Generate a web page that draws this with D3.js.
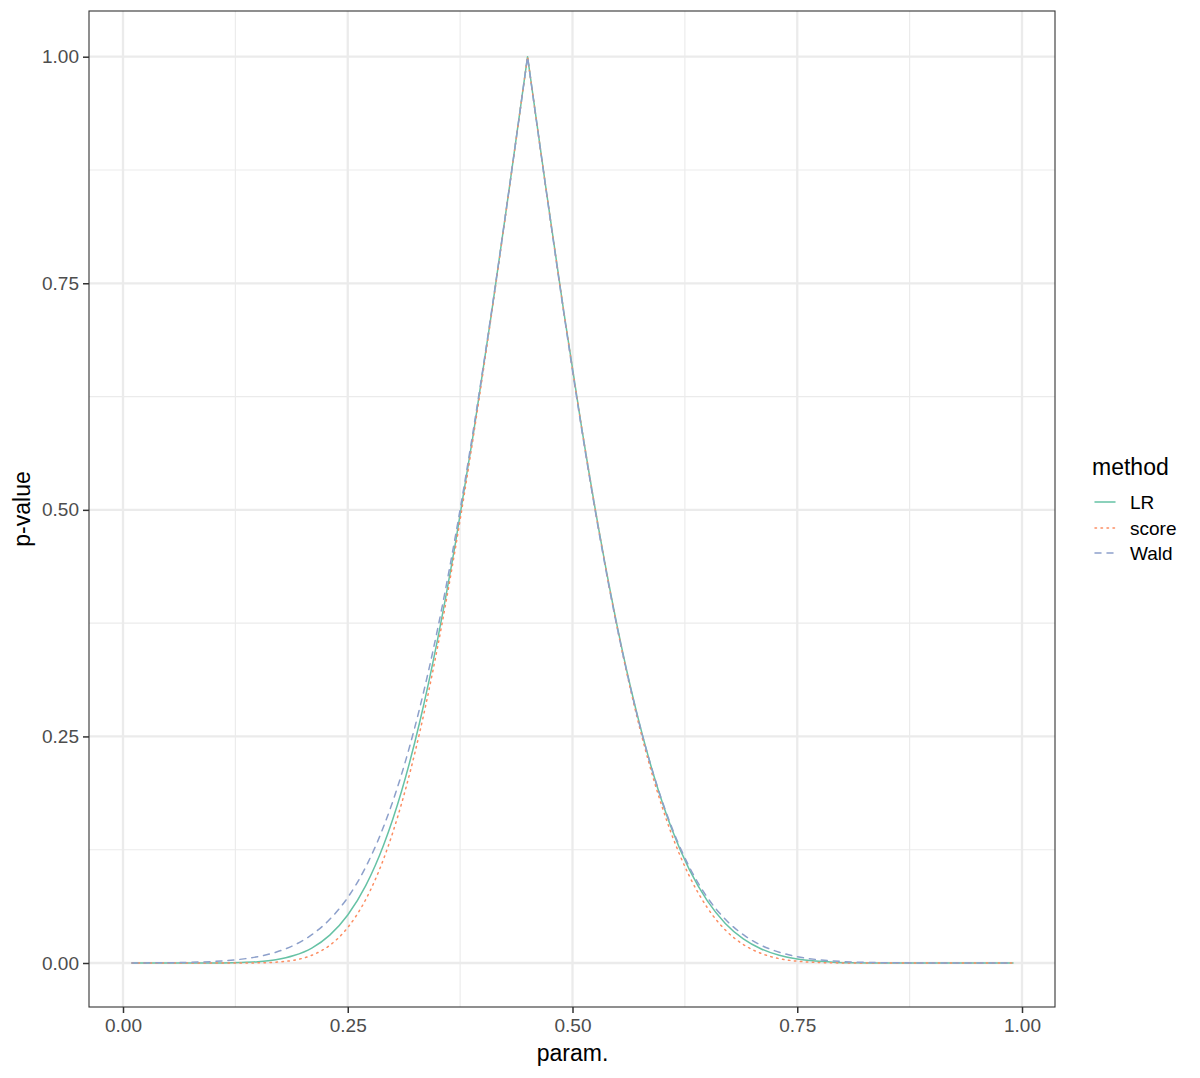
<!DOCTYPE html>
<html>
<head>
<meta charset="utf-8">
<script src="https://cdn.jsdelivr.net/npm/d3@7"></script>
<style>
  html, body { margin: 0; padding: 0; background: #ffffff; }
  svg { display: block; }
  text { font-family: "Liberation Sans", Arial, Helvetica, sans-serif; }
</style>
</head>
<body>
<svg id="chart" width="1200" height="1078"></svg>
<script>
// ---- data ----
const params = [0.01,0.03,0.05,0.07,0.09,0.11,0.13,0.15,0.17,0.19,0.21,0.23,0.25,0.27,0.29,0.31,0.33,0.35,0.37,0.39,0.41,0.43,0.45,
  0.47,0.49,0.51,0.53,0.55,0.57,0.59,0.61,0.63,0.65,0.67,0.69,0.71,0.73,0.75,0.77,0.79,0.81,0.83,0.85,0.87,0.89,0.91,0.93,0.95,0.97,0.99];

const lrValues = [0,0,0,0.000003,0.000023,0.00013,0.00049,0.0014,0.0036,0.0082,0.0165,0.0307,0.0529,0.0853,0.1304,0.1900,0.2656,0.3574,0.4647,0.5858,0.7177,0.8572,1,
  0.8580,0.7207,0.5918,0.4743,0.3704,0.2819,0.2083,0.1490,0.1030,0.0685,0.0437,0.0266,0.0155,0.0085,0.0043,0.0021,0.00093,0.00036,0.000125,0.000035,0.000007,0,0,0,0,0,0];

const scoreValues = [0,0,0,0,0,0.000001,0.00002,0.00017,0.0009,0.0031,0.0085,0.0195,0.0391,0.0700,0.1151,0.1764,0.2543,0.3490,0.4592,0.5827,0.7164,0.8567,1,
  0.8579,0.7209,0.5919,0.4738,0.3687,0.2787,0.2035,0.1428,0.0958,0.0610,0.0364,0.0204,0.0105,0.0048,0.0020,0.00067,0.0002,0.00004,0.000006,0,0,0,0,0,0,0,0];

const waldValues = [0.00008,0.00017,0.00032,0.00064,0.0012,0.0023,0.0040,0.0070,0.0119,0.0195,0.0312,0.0482,0.0723,0.1059,0.1508,0.2087,0.2811,0.3687,0.4723,0.5901,0.7195,0.8574,1,
  0.8574,0.7195,0.5901,0.4723,0.3687,0.2811,0.2087,0.1508,0.1059,0.0723,0.0482,0.0312,0.0195,0.0119,0.0070,0.0040,0.0023,0.0012,0.00064,0.00032,0.00017,0.00008,0.00004,0.00002,0.00001,0,0];

const methods = ["LR", "score", "Wald"];
const methodValues = [lrValues, scoreValues, waldValues];
const methodColors = ["#66C2A5", "#FC8D62", "#8DA0CB"];
const methodDash = [null, "1.5,4.5", "6,6"];

const xTicks = [0, 0.25, 0.5, 0.75, 1];
const yTicks = [0, 0.25, 0.5, 0.75, 1];
const xMinor = [0.125, 0.375, 0.625, 0.875];
const yMinor = [0.125, 0.375, 0.625, 0.875];

// ---- layout ----
const panel = { left: 89, top: 11, right: 1055, bottom: 1007 };
const svg = d3.select("#chart");

const x = d3.scaleLinear().domain([0, 1]).range([123, 1022]);
const y = d3.scaleLinear().domain([0, 1]).range([963, 56.7]);

svg.append("rect").attr("width", 1200).attr("height", 1078).attr("fill", "#ffffff");

svg.append("defs").append("clipPath").attr("id", "clip")
  .append("rect")
  .attr("x", panel.left).attr("y", panel.top)
  .attr("width", panel.right - panel.left).attr("height", panel.bottom - panel.top);

const grid = svg.append("g");
grid.selectAll(".xminor").data(xMinor).enter().append("line")
  .attr("x1", d => x(d)).attr("x2", d => x(d))
  .attr("y1", panel.top).attr("y2", panel.bottom)
  .attr("stroke", "#EBEBEB").attr("stroke-width", 1.15);
grid.selectAll(".yminor").data(yMinor).enter().append("line")
  .attr("y1", d => y(d)).attr("y2", d => y(d))
  .attr("x1", panel.left).attr("x2", panel.right)
  .attr("stroke", "#EBEBEB").attr("stroke-width", 1.15);
grid.selectAll(".xmajor").data(xTicks).enter().append("line")
  .attr("x1", d => x(d)).attr("x2", d => x(d))
  .attr("y1", panel.top).attr("y2", panel.bottom)
  .attr("stroke", "#EBEBEB").attr("stroke-width", 2.3);
grid.selectAll(".ymajor").data(yTicks).enter().append("line")
  .attr("y1", d => y(d)).attr("y2", d => y(d))
  .attr("x1", panel.left).attr("x2", panel.right)
  .attr("stroke", "#EBEBEB").attr("stroke-width", 2.3);

// lines: each side of the peak is monotone, so smooth each side separately
const lineGen = d3.line()
  .x(d => x(d[0]))
  .y(d => y(d[1]))
  .curve(d3.curveMonotoneX);

function pathFor(values) {
  const pts = params.map((p, i) => [p, values[i]]);
  const peak = d3.maxIndex(values);
  const left = lineGen(pts.slice(0, peak + 1));
  const right = lineGen(pts.slice(peak));
  return left + right.replace(/^M/, "L");
}

const linesG = svg.append("g").attr("clip-path", "url(#clip)");
methods.forEach((m, k) => {
  const p = linesG.append("path")
    .attr("d", pathFor(methodValues[k]))
    .attr("fill", "none")
    .attr("stroke", methodColors[k])
    .attr("stroke-width", 1.5)
    .attr("stroke-linejoin", "round")
    .attr("stroke-linecap", "round");
  if (methodDash[k]) p.attr("stroke-dasharray", methodDash[k]);
});

// panel border
svg.append("rect")
  .attr("x", panel.left).attr("y", panel.top)
  .attr("width", panel.right - panel.left).attr("height", panel.bottom - panel.top)
  .attr("fill", "none").attr("stroke", "#333333").attr("stroke-width", 1.1);

// axes
const xAxis = d3.axisBottom(x).tickValues(xTicks).tickFormat(d3.format(".2f")).tickSize(6).tickPadding(6);
const gx = svg.append("g").attr("transform", `translate(0,${panel.bottom})`).call(xAxis);
gx.select(".domain").remove();
gx.selectAll(".tick line").attr("stroke", "#333333").attr("stroke-width", 1.5);
gx.selectAll(".tick text").attr("fill", "#4D4D4D").style("font-size", "19px")
  .style("font-family", '"Liberation Sans", Arial, sans-serif');

const yAxis = d3.axisLeft(y).tickValues(yTicks).tickFormat(d3.format(".2f")).tickSize(6).tickPadding(4);
const gy = svg.append("g").attr("transform", `translate(${panel.left},0)`).call(yAxis);
gy.select(".domain").remove();
gy.selectAll(".tick line").attr("stroke", "#333333").attr("stroke-width", 1.5);
gy.selectAll(".tick text").attr("fill", "#4D4D4D").style("font-size", "19px")
  .style("font-family", '"Liberation Sans", Arial, sans-serif');

// axis titles
svg.append("text")
  .attr("x", (x(0) + x(1)) / 2).attr("y", 1061)
  .attr("text-anchor", "middle").attr("fill", "#000000")
  .style("font-size", "23px").text("param.");
svg.append("text")
  .attr("transform", `translate(30,${(panel.top + panel.bottom) / 2}) rotate(-90)`)
  .attr("text-anchor", "middle").attr("fill", "#000000")
  .style("font-size", "23px").text("p-value");

// legend
const legend = svg.append("g");
legend.append("text")
  .attr("x", 1092).attr("y", 475)
  .attr("fill", "#000000").style("font-size", "23px").text("method");
const keyY = [502, 528, 553];
methods.forEach((m, k) => {
  const l = legend.append("line")
    .attr("x1", 1095).attr("x2", 1115)
    .attr("y1", keyY[k]).attr("y2", keyY[k])
    .attr("stroke", methodColors[k]).attr("stroke-width", 1.5)
    .attr("stroke-linecap", "round");
  if (methodDash[k]) l.attr("stroke-dasharray", methodDash[k]);
  legend.append("text")
    .attr("x", 1130).attr("y", keyY[k] + 7)
    .attr("fill", "#000000").style("font-size", "19px").text(m);
});
</script>
</body>
</html>
